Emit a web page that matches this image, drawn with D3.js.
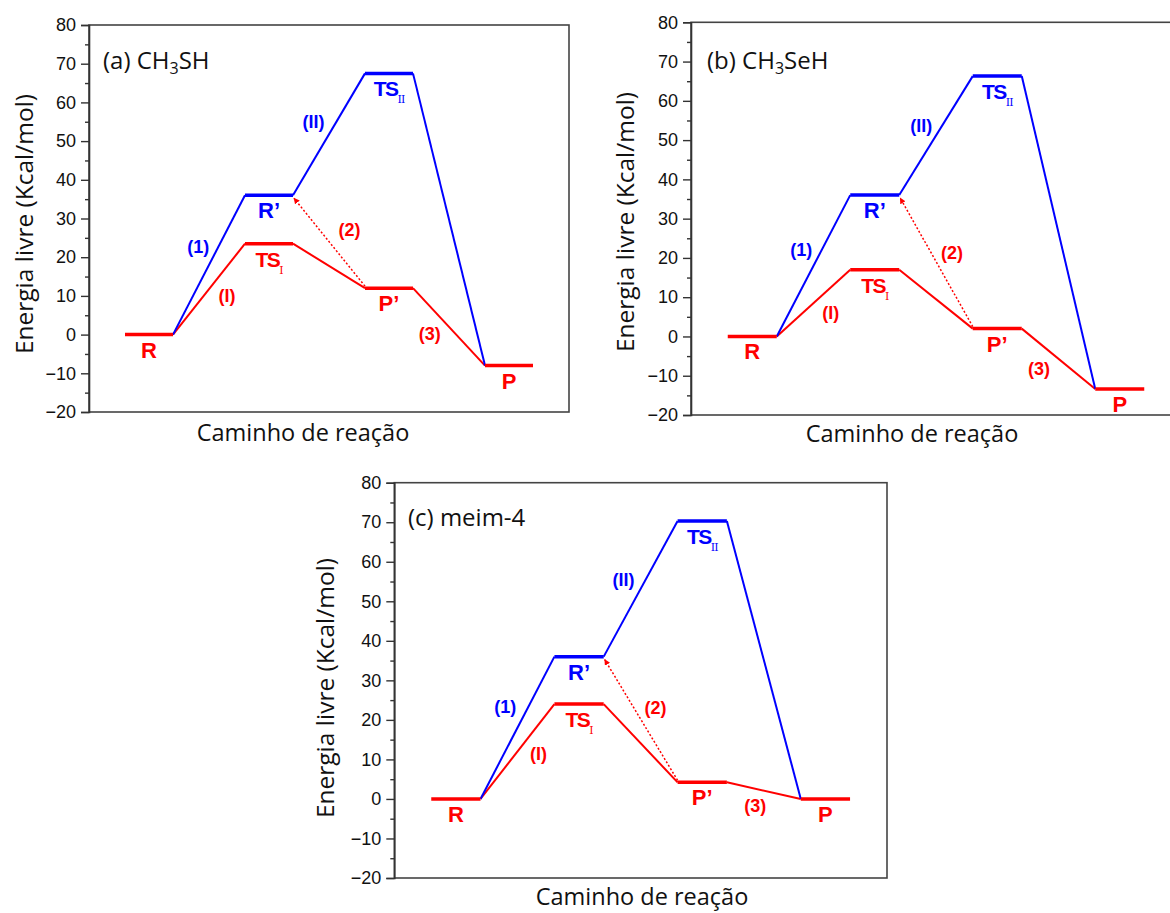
<!DOCTYPE html>
<html>
<head>
<meta charset="utf-8">
<script src="https://cdn.jsdelivr.net/npm/d3@7"></script>
<style>
body { margin: 0; background: #fff; }
</style>
</head>
<body>
<svg width="1170" height="913"></svg>
<script>
// states along the reaction coordinate
var states = ["R", "R'", "TS_I", "TS_II", "P'", "P"];
var stateSlot = [1, 2, 2, 3, 3, 4];
var stateColor = ["red", "blue", "red", "blue", "red", "red"];

// free energies (kcal/mol)
var energyA = [0, 36, 23.5, 67.5, 12, -8];
var energyB = [0, 36, 17, 66.3, 2, -13.4];
var energyC = [0, 36, 24, 70.3, 4.2, 0];

// connections between states (indices into states)
var blueLinks = [[0, 1], [1, 3], [3, 5]];
var redLinks = [[0, 2], [2, 4], [4, 5]];
var dottedLink = [4, 1]; // P' -> R', arrow at R'

// step labels
var stepText = ["(1)", "(I)", "(II)", "(2)", "(3)"];
var stepColor = ["blue", "red", "blue", "red", "red"];
var stepSlotA = [1.41, 1.65, 2.37, 2.67, 3.34];
var stepEnergyA = [22.7, 10, 55.1, 27.1, 0.3];
var stepSlotB = [1.40, 1.64, 2.38, 2.63, 3.34];
var stepEnergyB = [22.1, 6, 53.7, 21.4, -8.3];
var stepSlotC = [1.40, 1.67, 2.36, 2.62, 3.43];
var stepEnergyC = [23.4, 11.5, 55.5, 23.0, -1.7];

var yTicks = [-20, -10, 0, 10, 20, 30, 40, 50, 60, 70, 80];
var yMinorTicks = [-15, -5, 5, 15, 25, 35, 45, 55, 65, 75];

var panels = [
  {title: ["(a) CH", "3", "SH"], energy: energyA, stepSlot: stepSlotA, stepEnergy: stepEnergyA,
   box: [89, 25, 569, 412], yTitle: [24, 224], xTitle: [303, 441], titlePos: [103, 69]},
  {title: ["(b) CH", "3", "SeH"], energy: energyB, stepSlot: stepSlotB, stepEnergy: stepEnergyB,
   box: [691, 22.3, 1181, 415], yTitle: [625, 222], xTitle: [912, 442], titlePos: [707, 69]},
  {title: ["(c) meim-4"], energy: energyC, stepSlot: stepSlotC, stepEnergy: stepEnergyC,
   box: [394.3, 482.7, 887, 878], yTitle: [325, 688], xTitle: [642, 905], titlePos: [408, 526]}
];

var svg = d3.select("svg");
var halfLevel = 0.2;
var textFont = "'Open Sans', sans-serif";
var labelFont = "'Liberation Sans', Arial, sans-serif";

svg.append("defs").append("marker")
  .attr("id", "arrow")
  .attr("viewBox", "0 0 10 10")
  .attr("refX", 9).attr("refY", 5)
  .attr("markerWidth", 6).attr("markerHeight", 6)
  .attr("markerUnits", "userSpaceOnUse")
  .attr("orient", "auto")
  .append("path")
  .attr("d", "M0,0 L10,5 L0,10 z")
  .attr("fill", "red");

panels.forEach(drawPanel);

function drawPanel(p) {
  var x0 = p.box[0], y0 = p.box[1], x1 = p.box[2], y1 = p.box[3];
  var x = d3.scaleLinear().domain([0.5, 4.5]).range([x0, x1]);
  var y = d3.scaleLinear().domain([-20, 80]).range([y1, y0]);
  var g = svg.append("g");

  // frame
  g.append("rect")
    .attr("x", x0).attr("y", y0)
    .attr("width", x1 - x0).attr("height", y1 - y0)
    .attr("fill", "none")
    .attr("stroke", "#444")
    .attr("stroke-width", 1.6);

  // y axis, major + minor
  var ax = g.append("g")
    .attr("transform", "translate(" + x0 + ",0)")
    .call(d3.axisLeft(y).tickValues(yTicks).tickSize(8).tickPadding(5));
  ax.select(".domain").attr("stroke", "#333").attr("stroke-width", 1.6);
  ax.selectAll(".tick line").attr("stroke", "#333").attr("stroke-width", 1.4);
  ax.selectAll(".tick text")
    .attr("font-family", labelFont)
    .attr("font-size", 18)
    .attr("fill", "#111");
  var axm = g.append("g")
    .attr("transform", "translate(" + x0 + ",0)")
    .call(d3.axisLeft(y).tickValues(yMinorTicks).tickSize(4).tickFormat(""));
  axm.select(".domain").remove();
  axm.selectAll(".tick line").attr("stroke", "#333").attr("stroke-width", 1.4);

  var E = p.energy;
  function links(list, color) {
    g.selectAll(null)
      .data(list)
      .enter()
      .append("line")
      .attr("x1", function(d) { return x(stateSlot[d[0]] + halfLevel); })
      .attr("y1", function(d) { return y(E[d[0]]); })
      .attr("x2", function(d) { return x(stateSlot[d[1]] - halfLevel); })
      .attr("y2", function(d) { return y(E[d[1]]); })
      .attr("stroke", color)
      .attr("stroke-width", 2);
  }
  links(redLinks, "red");
  links(blueLinks, "blue");

  // dotted arrow (2)
  g.append("line")
    .attr("x1", x(stateSlot[dottedLink[0]] - halfLevel))
    .attr("y1", y(E[dottedLink[0]]) - 2)
    .attr("x2", x(stateSlot[dottedLink[1]] + halfLevel) + 1)
    .attr("y2", y(E[dottedLink[1]]) + 3)
    .attr("stroke", "red")
    .attr("stroke-width", 1.5)
    .attr("stroke-dasharray", "2,2")
    .attr("marker-end", "url(#arrow)");

  // energy levels
  g.selectAll(null)
    .data(states)
    .enter()
    .append("line")
    .attr("x1", function(d, i) { return x(stateSlot[i] - halfLevel); })
    .attr("x2", function(d, i) { return x(stateSlot[i] + halfLevel); })
    .attr("y1", function(d, i) { return y(E[i]); })
    .attr("y2", function(d, i) { return y(E[i]); })
    .attr("stroke", function(d, i) { return stateColor[i]; })
    .attr("stroke-width", 3.5);

  // state names
  var lab = g.selectAll(null)
    .data(states)
    .enter()
    .append("text")
    .attr("x", function(d, i) { return x(stateSlot[i]); })
    .attr("y", function(d, i) { return y(E[i]) + 23; })
    .attr("text-anchor", "middle")
    .attr("font-family", labelFont)
    .attr("font-weight", "bold")
    .attr("font-size", 22)
    .attr("fill", function(d, i) { return stateColor[i]; });
  lab.each(function(d) {
    var t = d3.select(this);
    if (d.indexOf("TS_") === 0) {
      t.attr("font-size", 21).attr("letter-spacing", -1.5);
      t.append("tspan").text("TS");
      t.append("tspan")
        .attr("font-size", 11)
        .attr("font-family", "'DejaVu Serif', serif")
        .attr("font-weight", "normal")
        .attr("letter-spacing", -1)
        .attr("dx", 0).attr("dy", 7)
        .text(d.slice(3));
    } else {
      t.text(d.replace("'", "\u2019"));
    }
  });

  // step labels
  g.selectAll(null)
    .data(stepText)
    .enter()
    .append("text")
    .attr("x", function(d, i) { return x(p.stepSlot[i]); })
    .attr("y", function(d, i) { return y(p.stepEnergy[i]); })
    .attr("dy", "0.35em")
    .attr("text-anchor", "middle")
    .attr("font-family", labelFont)
    .attr("font-weight", "bold")
    .attr("font-size", 18)
    .attr("fill", function(d, i) { return stepColor[i]; })
    .text(function(d) { return d; });

  // panel title
  var tt = g.append("text")
    .attr("x", p.titlePos[0]).attr("y", p.titlePos[1])
    .attr("font-family", textFont)
    .attr("font-size", 24)
    .attr("fill", "#111");
  tt.append("tspan").text(p.title[0]);
  if (p.title.length > 1) {
    tt.append("tspan").attr("font-size", 16).attr("dy", 5).text(p.title[1]);
    tt.append("tspan").attr("dy", -5).text(p.title[2]);
  }

  // axis titles
  g.append("text")
    .attr("transform", "translate(" + p.yTitle[0] + "," + p.yTitle[1] + ") rotate(-90)")
    .attr("dy", "0.35em")
    .attr("text-anchor", "middle")
    .attr("font-family", textFont)
    .attr("font-size", 24.5)
    .attr("fill", "#111")
    .text("Energia livre (Kcal/mol)");
  g.append("text")
    .attr("x", p.xTitle[0]).attr("y", p.xTitle[1])
    .attr("text-anchor", "middle")
    .attr("font-family", textFont)
    .attr("font-size", 23.5)
    .attr("fill", "#111")
    .text("Caminho de reação");
}
</script>
</body>
</html>
